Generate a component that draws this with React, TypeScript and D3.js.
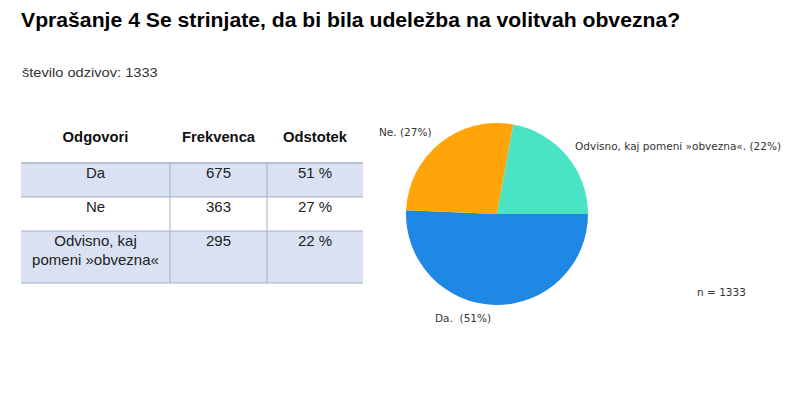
import React from "react";
import * as d3 from "d3";

const answers = ["Da", "Ne", "Odvisno, kaj pomeni »obvezna«"];
const answerLines = [["Da"], ["Ne"], ["Odvisno, kaj", "pomeni »obvezna«"]];
const frequencies = [675, 363, 295];
const percentLabels = ["51 %", "27 %", "22 %"];
const pieLabels = ["Da.  (51%)", "Ne. (27%)", "Odvisno, kaj pomeni »obvezna«. (22%)"];
const pieColors = ["#1f88e5", "#ffa50a", "#4ae3c4"];
const headers = ["Odgovori", "Frekvenca", "Odstotek"];
const totalN = 1333;

export default function App() {
  const W = 806, H = 419;
  const cx = 497, cy = 214, r = 91;
  const pie = d3.pie<number>().sort(null).startAngle(Math.PI / 2).endAngle(Math.PI / 2 + 2 * Math.PI);
  const arcs = pie(frequencies);
  const arcGen = d3.arc<d3.PieArcDatum<number>>().innerRadius(0).outerRadius(r);

  const colX = [21, 170, 267, 363];
  const rowY = [163, 197, 231, 283];
  const font = "Arial, 'Liberation Sans', sans-serif";
  const pieFont = "Verdana, 'DejaVu Sans', sans-serif";
  const labelPos: [number, number][] = [
    [435, 322],
    [379, 136],
    [575, 150],
  ];
  const sx = 1.07;

  return (
    <svg width={W} height={H} style={{ position: "absolute", left: 0, top: 0, background: "#fff" }}>
      <g transform={`translate(21,27) scale(${sx},1)`}>
        <text x={0} y={0} fontFamily={font} fontWeight="bold" fontSize={19.8} fill="#000">
          Vprašanje 4 Se strinjate, da bi bila udeležba na volitvah obvezna?
        </text>
      </g>
      <g transform={`translate(22,77) scale(1.1,1)`}>
        <text x={0} y={0} fontFamily={font} fontSize={13.3} fill="#333">
          število odzivov: {totalN}
        </text>
      </g>

      {/* table */}
      {answers.map((a, i) => (
        <rect key={a} x={colX[0]} y={rowY[i]} width={colX[3] - colX[0]} height={rowY[i + 1] - rowY[i]}
          fill={i % 2 === 0 ? "#d9e1f3" : "#ffffff"} />
      ))}
      {rowY.map((y, i) => (
        <line key={i} x1={colX[0]} x2={colX[3]} y1={y} y2={y} stroke="#a7b0c2" strokeWidth={i === 0 ? 1.5 : 1} />
      ))}
      {[1, 2].map((i) => (
        <line key={i} x1={colX[i]} x2={colX[i]} y1={rowY[0]} y2={rowY[3]} stroke="#a7b0c2" strokeWidth={1} />
      ))}
      {headers.map((h, i) => (
        <text key={h} x={(colX[i] + colX[i + 1]) / 2} y={142} textAnchor="middle"
          fontFamily={font} fontWeight="bold" fontSize={14.8} fill="#111">{h}</text>
      ))}
      {answers.map((a, i) => (
        <g key={a}>
          {answerLines[i].map((ln, j) => (
            <text key={j} x={(colX[0] + colX[1]) / 2} y={rowY[i] + 15 + j * 19} textAnchor="middle"
              fontFamily={font} fontSize={15} fill="#222">{ln}</text>
          ))}
          <text x={(colX[1] + colX[2]) / 2} y={rowY[i] + 15} textAnchor="middle"
            fontFamily={font} fontSize={15} fill="#222">{frequencies[i]}</text>
          <text x={(colX[2] + colX[3]) / 2} y={rowY[i] + 15} textAnchor="middle"
            fontFamily={font} fontSize={15} fill="#222">{percentLabels[i]}</text>
        </g>
      ))}

      {/* pie */}
      <g transform={`translate(${cx},${cy})`}>
        {arcs.map((a, i) => (
          <path key={i} d={arcGen(a) || ""} fill={pieColors[i]} />
        ))}
      </g>
      {pieLabels.map((l, i) => (
        <text key={l} x={labelPos[i][0]} y={labelPos[i][1]} xmlSpace="preserve"
          style={{ whiteSpace: "pre" }}
          fontFamily={pieFont} fontSize={10.5} fill="#333">{l}</text>
      ))}
      <text x={697} y={296} fontFamily={pieFont} fontSize={10.5} fill="#333">n = {totalN}</text>
    </svg>
  );
}
